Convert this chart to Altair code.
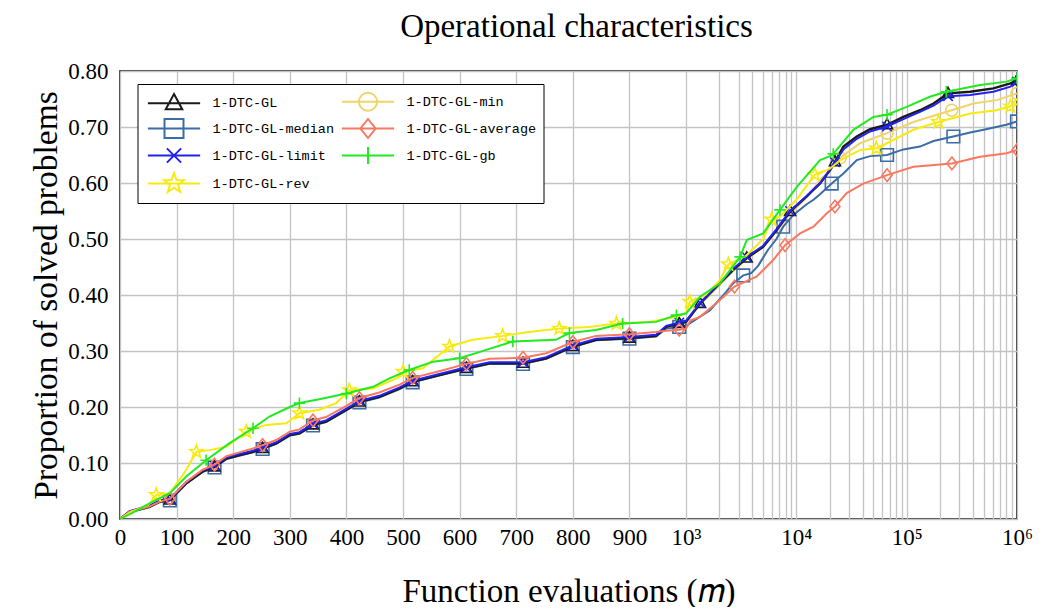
import math
import altair as alt
import pandas as pd

# ---------------- data ----------------
SERIES = ["1-DTC-GL", "1-DTC-GL-median", "1-DTC-GL-limit", "1-DTC-GL-rev",
          "1-DTC-GL-min", "1-DTC-GL-average", "1-DTC-GL-gb"]

LIN_M = [0, 17, 52, 70, 88, 117, 146, 167, 188, 211, 235, 252, 276, 300, 317, 341, 364,
         400, 423, 458, 494, 517, 564, 612, 653, 712, 753, 800, 841, 900, 947, 965, 988, 1000]

GL_M = LIN_M + [1340, 2030, 2680, 3550, 5000, 6640, 8770, 12400, 16400, 20200, 22400, 26700,
                35300, 46600, 66400, 93300, 132000, 175000, 237000, 376000, 611000, 871000, 1000000]
GL_Y = [0, 0.013, 0.022, 0.031, 0.034, 0.064, 0.085, 0.093, 0.108, 0.114, 0.120, 0.126, 0.135,
        0.150, 0.153, 0.168, 0.174, 0.195, 0.209, 0.218, 0.233, 0.245, 0.257, 0.269, 0.278,
        0.278, 0.287, 0.308, 0.320, 0.323, 0.327, 0.343, 0.349, 0.352, 0.385, 0.421, 0.445,
        0.466, 0.486, 0.516, 0.549, 0.576, 0.599, 0.623, 0.638, 0.665, 0.683, 0.696, 0.704,
        0.718, 0.730, 0.742, 0.760, 0.763, 0.769, 0.778, 0.783]
GL_MARK = [88, 167, 252, 341, 423, 517, 612, 712, 800, 900, 988, 1340, 3550, 8770, 22400,
           66400, 237000, 1000000]

LIMIT_M = GL_M
LIMIT_Y = [0, 0.014, 0.024, 0.033, 0.036, 0.066, 0.087, 0.095, 0.110, 0.116, 0.122, 0.128,
           0.137, 0.152, 0.155, 0.170, 0.176, 0.197, 0.211, 0.220, 0.235, 0.247, 0.259, 0.271,
           0.280, 0.280, 0.289, 0.310, 0.322, 0.325, 0.329, 0.345, 0.351, 0.354, 0.386, 0.422,
           0.447, 0.468, 0.488, 0.518, 0.550, 0.577, 0.600, 0.624, 0.637, 0.660, 0.679, 0.692,
           0.701, 0.714, 0.727, 0.738, 0.755, 0.757, 0.763, 0.772, 0.781]
LIMIT_MARK = GL_MARK

MEDIAN_M = LIN_M + [1650, 2300, 2680, 3300, 3900, 4500, 5500, 6600, 7600, 9400, 12400, 14300,
                    16400, 20900, 26700, 35300, 46600, 66400, 93300, 132000, 175000, 265000,
                    376000, 500000, 800000, 1000000]
MEDIAN_Y = [0, 0.012, 0.021, 0.030, 0.033, 0.063, 0.084, 0.092, 0.107, 0.113, 0.119, 0.125,
            0.134, 0.149, 0.152, 0.167, 0.173, 0.194, 0.208, 0.217, 0.232, 0.244, 0.256, 0.268,
            0.277, 0.277, 0.286, 0.307, 0.319, 0.322, 0.326, 0.340, 0.343, 0.345,
            0.373, 0.405, 0.421, 0.435, 0.439, 0.452, 0.480, 0.500, 0.522, 0.543, 0.562, 0.570,
            0.580, 0.599, 0.617, 0.641, 0.648, 0.650, 0.660, 0.665, 0.675, 0.683, 0.690, 0.695,
            0.704, 0.710]
MEDIAN_MARK = [88, 167, 252, 341, 423, 517, 612, 712, 800, 900, 988, 3300, 7600, 20900, 66400,
               265000, 1000000]

AVG_M = LIN_M + [1100, 1340, 2030, 2750, 4380, 6170, 7900, 10800, 14300, 18900, 22400, 28600,
                 40500, 66400, 115000, 257000, 463000, 806000, 1000000]
AVG_Y = [0, 0.013, 0.022, 0.031, 0.036, 0.066, 0.088, 0.097, 0.112, 0.119, 0.126, 0.132, 0.141,
         0.156, 0.160, 0.176, 0.182, 0.202, 0.216, 0.226, 0.240, 0.252, 0.264, 0.277, 0.286,
         0.288, 0.296, 0.316, 0.327, 0.330, 0.334, 0.336, 0.338, 0.340,
         0.355, 0.361, 0.391, 0.415, 0.433, 0.4625, 0.489, 0.510, 0.522, 0.546, 0.558, 0.582,
         0.599, 0.614, 0.629, 0.635, 0.647, 0.653, 0.659]
AVG_MARK = [88, 167, 252, 341, 423, 517, 612, 712, 800, 900, 988, 2750, 7900, 22400, 66400,
            257000, 1000000]

MIN_M = LIN_M + [1340, 2030, 2680, 3550, 5000, 6640, 8770, 12400, 16400, 20200, 25000, 37800,
                 66400, 115000, 256000, 403000, 656000, 900000, 1000000]
MIN_Y = GL_Y[:34] + [0.383, 0.418, 0.443, 0.464, 0.486, 0.514, 0.545, 0.574, 0.605, 0.623,
                     0.645, 0.671, 0.689, 0.709, 0.730, 0.742, 0.748, 0.757, 0.760]
MIN_MARK = [25000, 66400, 256000, 1000000]

REV_M = [0, 20, 50, 64, 88, 117, 135, 158, 188, 223, 258, 294, 317, 352, 382, 405, 447, 488,
         500, 535, 582, 623, 676, 723, 776, 829, 877, 935, 983, 1000,
         1080, 1500, 2000, 2420, 3500, 5000, 5980, 7100, 10000, 14700, 20000, 25000, 38000,
         53000, 66000, 115000, 194000, 376000, 650000, 870000, 1000000]
REV_Y = [0, 0.013, 0.025, 0.043, 0.046, 0.0875, 0.120, 0.123, 0.129, 0.156, 0.168, 0.171,
         0.189, 0.195, 0.207, 0.230, 0.233, 0.251, 0.263, 0.269, 0.308, 0.320, 0.327, 0.334,
         0.340, 0.343, 0.349, 0.352, 0.361, 0.368,
         0.388, 0.400, 0.425, 0.455, 0.470, 0.500, 0.535, 0.540, 0.570, 0.615, 0.625, 0.641,
         0.659, 0.662, 0.671, 0.695, 0.709, 0.724, 0.730, 0.737, 0.750]
REV_MARK = [64, 135, 223, 317, 405, 500, 582, 676, 776, 877, 1080, 2420, 5980, 14700, 53000,
            194000, 870000]

GB_M = [0, 20, 58, 88, 117, 152, 193, 235, 264, 300, 317, 352, 400, 447, 476, 511, 553, 600,
        647, 694, 770, 794, 841, 888, 947, 983, 1000,
        1340, 2030, 3090, 3550, 5000, 7100, 10100, 16400, 20200, 21600, 32900, 49900, 66400,
        100000, 162000, 229000, 463000, 805000, 1000000]
GB_Y = [0, 0.010, 0.031, 0.046, 0.076, 0.105, 0.135, 0.162, 0.183, 0.200, 0.207, 0.214, 0.224,
        0.236, 0.251, 0.266, 0.281, 0.287, 0.302, 0.317, 0.320, 0.332, 0.3375, 0.349, 0.352,
        0.364, 0.367,
        0.397, 0.421, 0.468, 0.498, 0.510, 0.552, 0.593, 0.641, 0.648, 0.652, 0.695, 0.718,
        0.722, 0.736, 0.754, 0.763, 0.775, 0.781, 0.787]
GB_MARK = [152, 235, 317, 400, 511, 600, 694, 794, 888, 983, 3090, 7100, 21600, 66400, 229000,
           1000000]

Y_TICKS = [0.0, 0.1, 0.2, 0.3, 0.4, 0.5, 0.6, 0.7, 0.8]
X_LIN_TICKS = [0, 100, 200, 300, 400, 500, 600, 700, 800, 900]
X_DECADES = [3, 4, 5, 6]
SUP = {3: "10³", 4: "10⁴", 5: "10⁵", 6: "10⁶"}

DATA = {
    "1-DTC-GL": (GL_M, GL_Y, GL_MARK),
    "1-DTC-GL-median": (MEDIAN_M, MEDIAN_Y, MEDIAN_MARK),
    "1-DTC-GL-limit": (LIMIT_M, LIMIT_Y, LIMIT_MARK),
    "1-DTC-GL-rev": (REV_M, REV_Y, REV_MARK),
    "1-DTC-GL-min": (MIN_M, MIN_Y, MIN_MARK),
    "1-DTC-GL-average": (AVG_M, AVG_Y, AVG_MARK),
    "1-DTC-GL-gb": (GB_M, GB_Y, GB_MARK),
}

# ---------------- styles ----------------
COLORS = {
    "1-DTC-GL": "#1a1a1a",
    "1-DTC-GL-median": "#3b6ca6",
    "1-DTC-GL-limit": "#2222f0",
    "1-DTC-GL-rev": "#f8ea10",
    "1-DTC-GL-min": "#f0d468",
    "1-DTC-GL-average": "#fa7860",
    "1-DTC-GL-gb": "#22ea22",
}


def star_path(R=1.1, r=0.45):
    pts = []
    for i in range(10):
        a = -math.pi / 2 + i * math.pi / 5
        rad = R if i % 2 == 0 else r
        pts.append(f"{rad * math.cos(a):.3f},{rad * math.sin(a):.3f}")
    return "M" + "L".join(pts) + "Z"


MARKERS = {
    "1-DTC-GL": "M0,-0.97L0.87,0.63L-0.87,0.63Z",
    "1-DTC-GL-median": "M-1,-1H1V1H-1Z",
    "1-DTC-GL-limit": "M-0.75,-0.75L0.75,0.75M-0.75,0.75L0.75,-0.75",
    "1-DTC-GL-rev": star_path(),
    "1-DTC-GL-min": "M-0.95,0A0.95,0.95,0,1,0,0.95,0A0.95,0.95,0,1,0,-0.95,0Z",
    "1-DTC-GL-average": "M0,-1L0.8,0L0,1L-0.8,0Z",
    "1-DTC-GL-gb": "M-0.9,0H0.9M0,-0.9V0.9",
}
LEG_LINE = "M-2.75,0H2.75"

DRAW_ORDER = ["1-DTC-GL-min", "1-DTC-GL-median", "1-DTC-GL", "1-DTC-GL-limit",
              "1-DTC-GL-average", "1-DTC-GL-rev", "1-DTC-GL-gb"]
# the legend fills its columns top to bottom
LEGEND_ORDER = SERIES

SERIF = "Liberation Serif"
MONO = "Liberation Mono"

DEC = 194.9  # axis units per decade in the log part
XMAX = 1000 + 3 * DEC

rows = []
for s in SERIES:
    ms, ys, mk = DATA[s]
    for m, y in zip(ms, ys):
        rows.append({"series": s, "m": m, "y": y, "marker": m in mk})
df = pd.DataFrame(rows)

# axis tick positions / labels
tick_vals = list(X_LIN_TICKS)
labels = {float(v): str(v) for v in X_LIN_TICKS}
for e in X_DECADES:
    pos = 1000 + (e - 3) * DEC
    tick_vals.append(pos)
    labels[pos] = SUP[e]
    if e < 6:
        for k in range(2, 10):
            tick_vals.append(1000 + (e - 3 + math.log10(k)) * DEC)

expr = "''"
for v, lab in labels.items():
    expr = f"abs(datum.value - {v:.4f}) < 0.01 ? '{lab}' : ({expr})"

x_enc = alt.X("xp:Q", scale=alt.Scale(domain=[0, XMAX], nice=False, zero=False),
              axis=alt.Axis(values=tick_vals, labelExpr=expr, title="Function evaluations (𝑚)",
                            grid=True, ticks=False, domain=False, labelFlush=False,
                            labelOverlap=False, labelPadding=7, titlePadding=26,
                            titleFontSize=33))
y_enc = alt.Y("y:Q", scale=alt.Scale(domain=[0, 0.8], nice=False, zero=False),
              axis=alt.Axis(values=Y_TICKS, format=".2f", title="Proportion of solved problems",
                            grid=True, ticks=False, domain=False, labelPadding=12,
                            titlePadding=4, titleFontSize=33.5))

base = alt.Chart(df).transform_calculate(
    xp="datum.m <= 1000 ? datum.m : 1000 + (log(datum.m) / LN10 - 3) * " + str(DEC)
)

layers = []
for s in DRAW_ORDER:
    sub = base.transform_filter(alt.datum.series == s)
    layers.append(sub.mark_line(color=COLORS[s], strokeWidth=2.0 if s != "1-DTC-GL" else 2.4,
                                clip=True).encode(x=x_enc, y=y_enc))
    layers.append(sub.transform_filter(alt.datum.marker == True).mark_point(
        shape=MARKERS[s], size=159, filled=False, strokeWidth=1.6, color=COLORS[s],
        opacity=1, clip=True).encode(x=x_enc, y=y_enc))

leg = alt.Legend(orient="none", legendX=17.5, legendY=13, columns=2, title=None,
                 symbolSize=361, symbolStrokeWidth=2, symbolOffset=19, labelOffset=28,
                 labelFont=MONO, labelFontSize=13.5, labelColor="black",
                 columnPadding=3, rowPadding=0, padding=7, fillColor="white",
                 strokeColor="black", cornerRadius=0, labelBaseline="middle")
legend_layer = base.transform_filter("false").mark_point(filled=False, opacity=1).encode(
    x=x_enc, y=y_enc,
    color=alt.Color("series:N", scale=alt.Scale(domain=LEGEND_ORDER,
                                                range=[COLORS[s] for s in LEGEND_ORDER]),
                    legend=leg),
    shape=alt.Shape("series:N", scale=alt.Scale(domain=LEGEND_ORDER,
                                                range=[LEG_LINE + MARKERS[s] for s in LEGEND_ORDER]),
                    legend=leg),
)
layers.append(legend_layer)

chart = alt.layer(*layers).properties(
    width=897, height=448,
    title=alt.TitleParams("Operational characteristics", font=SERIF, fontSize=33,
                          fontWeight="normal", color="black", anchor="middle", offset=16, dx=8),
    autosize=alt.AutoSizeParams(type="none"),
    padding={"left": 112, "top": 63, "right": 26, "bottom": 88},
).configure_view(stroke="black", strokeWidth=1.5).configure_axis(
    labelFont=SERIF, labelFontSize=23, labelColor="black", titleFont=SERIF,
    titleFontWeight="normal", titleColor="black", gridColor="#c4c4c4", gridWidth=1.3,
    gridOpacity=1
).configure_legend(strokeWidth=1)

chart.save("out.html", embed_options={"renderer": "svg", "actions": False})
